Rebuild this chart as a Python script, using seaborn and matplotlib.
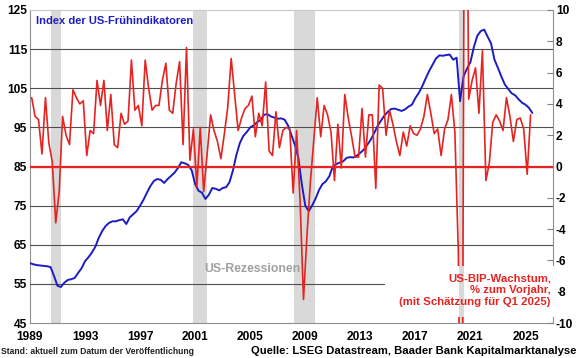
import pandas as pd
import numpy as np
import matplotlib
matplotlib.use("Agg")
import matplotlib.pyplot as plt
from matplotlib.patches import Rectangle
import seaborn as sns

# US leading index (left axis), quarterly snapshots (Jan/Apr/Jul/Oct), 1989-01 .. 2025-07
lei = [60.3, 60.0, 59.8, 59.7,
       59.6, 59.5, 59.3, 57.0,
       54.5, 54.2, 55.3, 56.0,
       56.2, 56.5, 57.8, 59.0,
       60.8, 61.8, 63.0, 64.5,
       66.8, 68.5, 69.8, 70.6,
       71.0, 71.0, 71.3, 71.5,
       70.3, 72.0, 72.8, 73.6,
       75.0, 76.5, 78.3, 80.0,
       81.3, 81.8, 81.6, 80.8,
       81.8, 82.6, 83.4, 84.6,
       86.1, 85.8, 85.4, 84.0,
       80.5, 78.8, 78.3, 76.7,
       77.8, 79.5, 79.3, 78.9,
       79.5, 79.7, 81.0, 84.0,
       88.0, 91.0, 92.8, 93.8,
       95.0, 95.5, 96.3, 96.9,
       98.2, 98.4, 97.8, 97.5,
       97.2, 97.3, 97.0, 95.5,
       93.0, 90.5, 87.2, 80.5,
       75.0, 73.6, 75.0, 76.8,
       79.0, 80.5, 81.2, 82.5,
       85.0, 85.6, 86.0, 86.3,
       87.2, 87.4, 87.3, 87.8,
       88.5, 89.3, 90.5, 91.8,
       93.5, 95.3, 96.7, 98.0,
       99.0, 99.7, 99.8, 99.5,
       99.2, 99.6, 100.3, 100.8,
       102.5, 103.8, 105.5, 107.5,
       109.4, 111.0, 112.6, 113.4,
       113.3, 113.5, 113.6, 112.3,
       112.8, 101.7, 108.0, 110.0,
       111.7, 115.5, 118.4, 119.6,
       120.0, 118.2, 116.5, 112.3,
       110.2, 108.0, 106.0, 104.8,
       103.7, 103.2, 102.2, 101.3,
       100.8, 100.0, 98.7]

# US real GDP growth (right axis), 1989Q1 .. 2025Q2
gdp = [4.4, 3.2, 3.0, 0.8,
       4.4, 1.5, 0.3, -3.6,
       -1.6, 3.2, 2.0, 1.4,
       4.9, 4.4, 4.0, 4.2,
       0.7, 2.3, 2.1, 5.5,
       3.9, 5.5, 2.3, 4.6,
       1.4, 1.2, 3.4, 2.7,
       2.9, 6.8, 3.6, 3.9,
       2.6, 6.8, 5.0, 3.6,
       3.9, 3.9, 5.5, 6.6,
       3.6, 3.4, 5.3, 6.7,
       1.4, 7.6, 0.4, 2.4,
       -1.3, 2.5, -1.6, 0.8,
       3.3, 2.3, 1.6, 0.5,
       2.1, 3.8, 6.9, 4.6,
       2.3, 3.1, 3.7, 3.9,
       4.5, 1.9, 3.4, 2.6,
       5.4, 1.0, 0.7, 3.5,
       1.2, 2.3, 2.5, 2.4,
       -1.7, 2.3, -2.1, -8.5,
       -4.4, -1.0, 1.7, 4.4,
       1.9, 3.9, 3.3, 2.2,
       -0.9, 2.7, -0.1, 4.6,
       3.1, 1.9, 0.6, 0.6,
       3.7, 0.6, 3.3, 3.3,
       -1.4, 5.2, 5.0, 2.0,
       3.6, 2.7, 1.6, 0.7,
       2.2, 1.3, 2.6, 2.1,
       2.0, 2.4, 3.2, 4.6,
       3.4, 2.1, 2.4, 0.7,
       2.4, 3.0, 4.6, 2.2,
       -5.5, -28.0, 34.8, 4.3,
       5.5, 6.3, 3.4, 7.4,
       -0.9, 0.2, 2.8, 3.3,
       2.9, 2.3, 4.4, 3.2,
       1.6, 3.0, 3.1, 2.4,
       -0.5, 3.3]

recessions = [("1990-07-01", "1991-04-15"),
              ("2000-11-10", "2001-11-01"),
              ("2008-03-01", "2009-09-10"),
              ("2020-02-20", "2020-07-20")]

year_ticks = [1989, 1993, 1997, 2001, 2005, 2009, 2013, 2017, 2021, 2025]
left_ticks = [45, 55, 65, 75, 85, 95, 105, 115, 125]
right_ticks = [-10, -8, -6, -4, -2, 0, 2, 4, 6, 8, 10]

lei_dates = pd.date_range("1989-01-01", periods=len(lei), freq="3MS")
gdp_dates = pd.period_range("1989Q1", periods=len(gdp), freq="Q").to_timestamp() + pd.Timedelta(days=45)

RED = "#e52421"
BLUE = "#1c1cc4"
GRAY_BAR = "#d9d9d9"

sns.set_style("white")
plt.rcParams["font.family"] = ["Liberation Sans", "DejaVu Sans"]
plt.rcParams["font.weight"] = "bold"

fig = plt.figure(figsize=(5.8, 3.58), dpi=100)
ax = fig.add_axes([30 / 580, 35 / 358, 523 / 580, 313 / 358])
ax2 = ax.twinx()

for start, end in recessions:
    ax.axvspan(pd.Timestamp(start), pd.Timestamp(end), color=GRAY_BAR, lw=0, zorder=0)

sns.lineplot(x=lei_dates, y=lei, ax=ax, color=BLUE, linewidth=1.4, zorder=3)

ax.set_ylim(45, 125)
ax.set_yticks(left_ticks)
ax.set_yticklabels([str(t) for t in left_ticks])
ax.set_xlim(pd.Timestamp("1989-01-01"), pd.Timestamp("2027-01-01"))
ax.set_xticks([pd.Timestamp(f"{y}-01-01") for y in year_ticks])
ax.set_xticklabels([str(y) for y in year_ticks])
ax.grid(axis="y", color="#505050", linewidth=0.8, zorder=1)
ax.set_axisbelow(False)
gl = ax.get_ygridlines()
gl[0].set_visible(False)
gl[-1].set_visible(False)
ax.set_xlabel("")
ax.set_ylabel("")
ax.tick_params(axis="y", length=0, pad=2, labelsize=8.6, labelcolor="black")
ax.tick_params(axis="x", length=3, width=0.8, color="#808080", direction="out", pad=3,
               labelsize=8.6, labelcolor="black")
for s in ["left", "bottom", "right"]:
    ax.spines[s].set_color("#909090")
    ax.spines[s].set_linewidth(0.8)
ax.spines["top"].set_color("#c8c8c8")

# right axis: GDP growth
ax2.axhline(0, color=RED, linewidth=1.6, zorder=1.5)
sns.lineplot(x=gdp_dates, y=gdp, ax=ax2, color=RED, linewidth=1.2, zorder=2)
ax2.set_ylim(-10, 10)
ax2.set_yticks(right_ticks)
ax2.set_yticklabels([str(t) for t in right_ticks])
ax2.set_ylabel("")
ax2.tick_params(axis="y", direction="in", length=4, width=0.8, color="#808080", pad=2,
                labelsize=8.6, labelcolor="black")
for s in ["left", "bottom", "right", "top"]:
    ax2.spines[s].set_visible(False)

# white box behind the GDP label
ax2.add_patch(Rectangle((0.679, 0.019), 0.33, 0.163, transform=ax2.transAxes,
                        facecolor="white", edgecolor="none", zorder=3, clip_on=False))
s20, e20 = recessions[-1]
ax2.axvspan(pd.Timestamp(s20), pd.Timestamp(e20), ymin=0.019, ymax=0.182,
            color=GRAY_BAR, lw=0, zorder=3.5)

ax2.text(0.0115, 0.965, "Index der US-Frühindikatoren", transform=ax2.transAxes,
         color=BLUE, fontsize=8, fontweight="bold", ha="left", va="center", zorder=5)
ax2.text(0.333, 0.1725, "US-Rezessionen", transform=ax2.transAxes,
         color="#a0a0a0", fontsize=8.8, fontweight="bold", ha="left", va="center", zorder=5)
ax2.text(0.996, 0.105, "US-BIP-Wachstum,\n% zum Vorjahr,\n(mit Schätzung für Q1 2025)",
         transform=ax2.transAxes, color=RED, fontsize=8.2, fontweight="bold",
         ha="right", va="center", multialignment="right", linespacing=1.22, zorder=5)

fig.text(1 / 580, 1 - 351 / 358, "Stand: aktuell zum Datum der Veröffentlichung",
         fontsize=6.2, fontweight="bold", color="#222222", ha="left", va="center")
fig.text(251 / 580, 1 - 351 / 358, "Quelle: LSEG Datastream, Baader Bank Kapitalmarktanalyse",
         fontsize=8.1, fontweight="bold", color="black", ha="left", va="center")

fig.savefig("out.png", dpi=100)
